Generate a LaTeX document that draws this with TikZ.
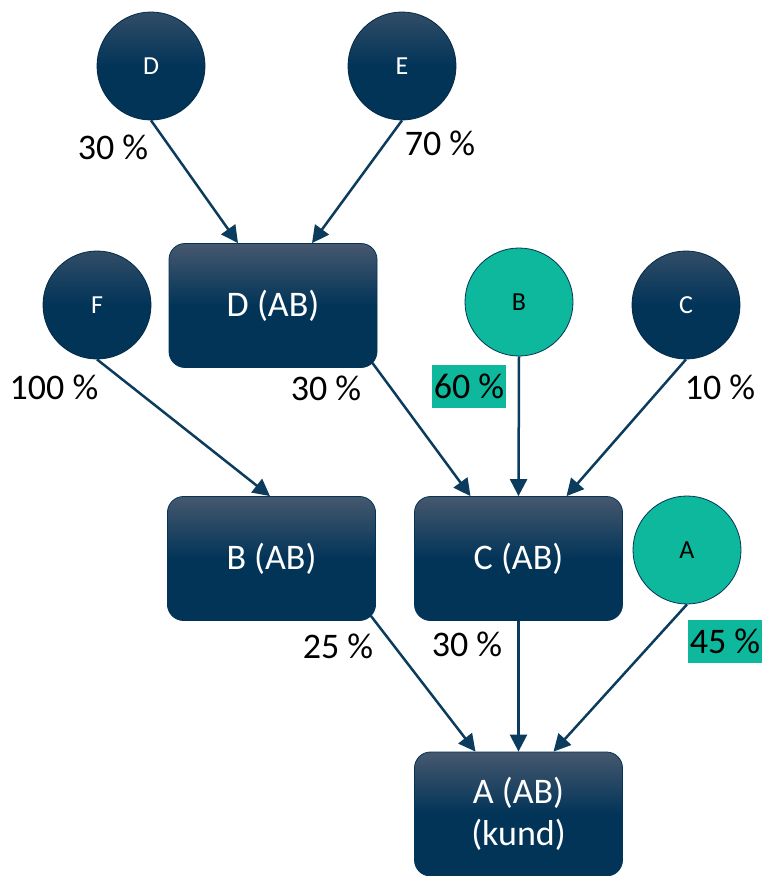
\documentclass[tikz,border=0pt]{standalone}
\usepackage{fontspec}
\setmainfont{Carlito}
\usetikzlibrary{arrows.meta}
\definecolor{navy}{HTML}{023458}
\definecolor{navytop}{HTML}{46586E}
\definecolor{tealc}{HTML}{0DB89C}
\definecolor{arrowc}{HTML}{0B3C5D}
\begin{document}
\begin{tikzpicture}[x=1pt,y=-1pt,
  box/.style={rectangle, rounded corners=16pt, minimum width=208pt, minimum height=124pt,
    top color=navytop, bottom color=navy, middle color=navy, draw=navy, line width=0.8pt,
    text=white, font=\fontsize{36}{42}\selectfont, align=center, inner sep=0pt},
  circ/.style={circle, minimum size=108pt, inner sep=0pt, top color=navytop!70!navy,
    bottom color=navy, middle color=navy, draw=navy!80!black, line width=0.8pt,
    text=white, font=\fontsize{26}{30}\selectfont},
  tcirc/.style={circle, minimum size=108pt, inner sep=0pt, fill=tealc, draw=navy,
    line width=0.8pt, text=black, font=\fontsize{26}{30}\selectfont},
  pct/.style={text=black, font=\fontsize{36}{42}\selectfont, inner sep=0pt},
  tpct/.style={pct, fill=tealc, minimum width=74pt, minimum height=43pt},
  arr/.style={draw=arrowc, line width=2.5pt, -{Triangle[length=17pt,width=17pt]}}
]
\useasboundingbox (0,0) rectangle (762,876);

% circles
\node[circ] (cD) at (151,66) {D};
\node[circ] (cE) at (402,66) {E};
\node[circ] (cF) at (97,305) {F};
\node[tcirc] (cB) at (519,302) {B};
\node[circ] (cC) at (686,305) {C};
\node[tcirc] (cA) at (687,550) {A};

% boxes
\node[box] (bD) at (273,305.5) {D (AB)};
\node[box] (bB) at (271.5,558.5) {B (AB)};
\node[box] (bC) at (518.5,558.5) {C (AB)};
\node[box] (bA) at (518.5,814) {A (AB)\\(kund)};

% connectors
\draw[arr] (cD.south) -- ([xshift=-35pt]bD.north);
\draw[arr] (cE.south) -- ([xshift=39pt]bD.north);
\draw[arr] (cF.south) -- ([xshift=-1.5pt]bB.north);
\draw[arr] ([shift={(-5,-5)}]bD.south east) -- ([xshift=-48pt]bC.north);
\draw[arr] (cB.south) -- (bC.north);
\draw[arr] (cC.south) -- ([xshift=48pt]bC.north);
\draw[arr] ([shift={(-5,-5)}]bB.south east) -- ([xshift=-43pt]bA.north);
\draw[arr] (bC.south) -- (bA.north);
\draw[arr] (cA.south) -- ([xshift=35pt]bA.north);

% labels
\node[pct] (l1) at (113,147) {30 \%};
\node[pct] (l2) at (440,143) {70 \%};
\node[pct] (l3) at (54,387) {100 \%};
\node[pct] (l4) at (326,388) {30 \%};
\node[tpct] (l5) at (469,386) {60 \%};
\node[pct] (l6) at (720,387) {10 \%};
\node[pct] (l7) at (338,646) {25 \%};
\node[pct] (l8) at (467,644) {30 \%};
\node[tpct] (l9) at (725,641) {45 \%};
\end{tikzpicture}
\end{document}
